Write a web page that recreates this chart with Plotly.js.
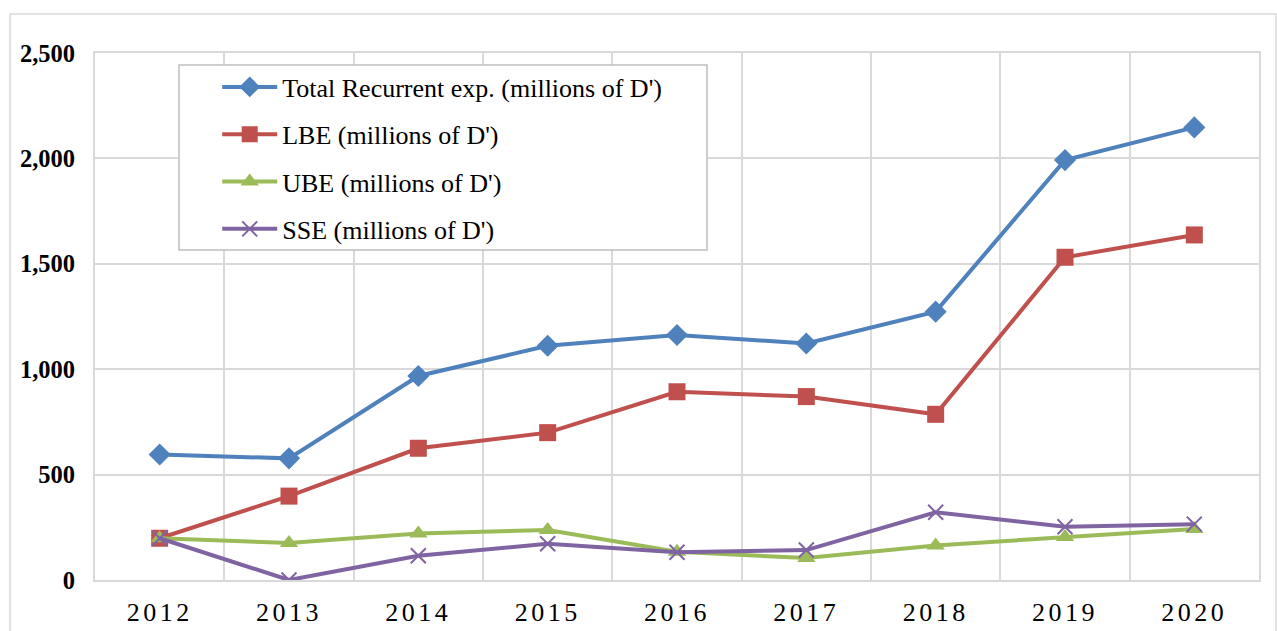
<!DOCTYPE html>
<html>
<head>
<meta charset="utf-8">
<script src="https://cdn.plot.ly/plotly-3.0.1.min.js"></script>
<style>
html, body { margin: 0; padding: 0; background: #fff; }
#chart { width: 1277px; height: 631px; }
.xaxislayer-above .xtick text { letter-spacing: 3.5px; }
</style>
</head>
<body>
<div id="chart"></div>
<script>
const years = ['2012', '2013', '2014', '2015', '2016', '2017', '2018', '2019', '2020'];
const totalRecurrent = [595, 577, 968, 1111, 1162, 1122, 1273, 1992, 2147];
const lbe = [198, 398, 625, 699, 893, 870, 786, 1531, 1637];
const ube = [198, 175, 221, 237, 134, 104, 164, 204, 242];
const sse = [198, 0, 115, 172, 132, 142, 321, 253, 265];
const seriesNames = [
  "Total Recurrent exp. (millions of D')",
  "LBE (millions of D')",
  "UBE (millions of D')",
  "SSE (millions of D')"
];
const yTickVals = [0, 500, 1000, 1500, 2000, 2500];

const SERIF = 'Times New Roman, Liberation Serif, DejaVu Serif, serif';
const colors = ['#4F81BD', '#C0504D', '#9BBB59', '#8064A2'];
const symbols = ['diamond', 'square', 'triangle-up', 'x-thin-open'];
const sizes = [17, 17, 16, 15];
const values = [totalRecurrent, lbe, ube, sse];

const traces = values.map((v, i) => ({
  type: 'scatter',
  mode: 'lines+markers',
  x: years,
  y: v,
  name: seriesNames[i],
  legendgroup: 'g' + i,
  line: { color: colors[i], width: 4 },
  marker: {
    symbol: symbols[i],
    size: sizes[i],
    color: colors[i],
    line: { color: colors[i], width: i === 3 ? 2 : 0 }
  }
}));

const layout = {
  width: 1277,
  height: 631,
  margin: { l: 95, r: 18, t: 53, b: 51 },
  paper_bgcolor: '#ffffff',
  plot_bgcolor: '#ffffff',
  font: { family: SERIF, color: '#000' },
  showlegend: true,
  legend: {
    x: 0.105, y: 0.98, xanchor: 'left', yanchor: 'top',
    bgcolor: 'rgba(0,0,0,0)', borderwidth: 0,
    font: { size: 26, family: SERIF, color: '#000' },
    tracegroupgap: 10.5,
    itemwidth: 55
  },
  xaxis: {
    type: 'category',
    range: [-0.5, 8.5],
    tickson: 'boundaries',
    showgrid: true,
    gridcolor: '#d9d9d9',
    gridwidth: 2,
    showline: true,
    linecolor: '#d9d9d9',
    linewidth: 2,
    mirror: true,
    ticks: '',
    tickfont: { size: 26, family: SERIF, color: '#000' },
    ticklabelstandoff: 8,
    fixedrange: true
  },
  yaxis: {
    range: [0, 2500],
    tickvals: yTickVals,
    tickformat: ',',
    showgrid: true,
    gridcolor: '#d9d9d9',
    gridwidth: 2,
    zeroline: false,
    showline: true,
    linecolor: '#d9d9d9',
    linewidth: 2,
    mirror: true,
    ticks: '',
    tickfont: { size: 24.5, family: SERIF, color: '#000', weight: 'bold' },
    ticklabelstandoff: 13,
    fixedrange: true
  },
  shapes: [
    {
      type: 'rect', xref: 'paper', yref: 'paper', layer: 'above',
      x0: (179 - 95) / 1164, x1: (707 - 95) / 1164,
      y0: (580 - 250) / 527, y1: (580 - 65) / 527,
      fillcolor: '#ffffff', line: { color: '#bfbfbf', width: 1.5 }
    },
    {
      type: 'rect', xref: 'paper', yref: 'paper', layer: 'below',
      x0: (10 - 95) / 1164, x1: (1276 - 95) / 1164,
      y0: -0.3, y1: (580 - 14) / 527,
      line: { color: '#d9d9d9', width: 1.5 }
    }
  ]
};

Plotly.newPlot('chart', traces, layout, { displayModeBar: false, staticPlot: true });
</script>
</body>
</html>
